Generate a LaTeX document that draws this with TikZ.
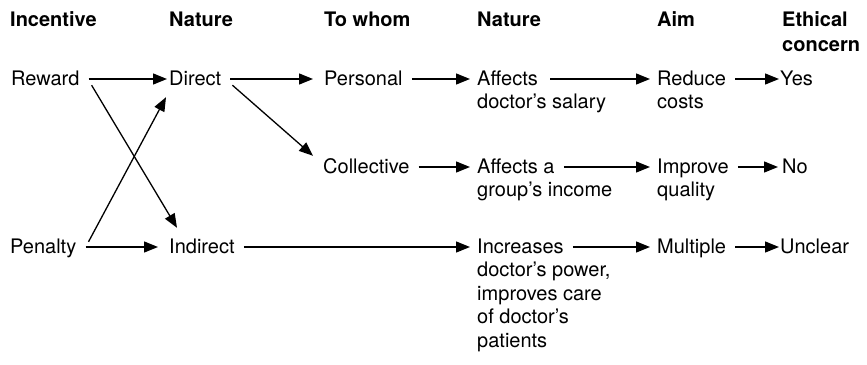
\documentclass[tikz,border=0pt]{standalone}
\usepackage{fontspec}
\setmainfont{TeX Gyre Heros}
\usetikzlibrary{arrows.meta}
\begin{document}
\begin{tikzpicture}[x=1pt,y=-1pt,
  every node/.style={inner sep=0pt,anchor=base west,text height=15pt,text depth=3pt,
    font=\fontsize{20}{23.5}\selectfont},
  head/.style={font=\fontsize{20}{24}\selectfont\bfseries},
  arr/.style={line width=1.3pt,-{Triangle[length=14pt,width=11pt]},shorten <=9pt}]
\useasboundingbox (0,0) rectangle (867,364);
% column headings
\node[head] (h1) at (10,27) {Incentive};
\node[head] (h2) at (169,27) {Nature};
\node[head] (h3) at (324,27) {To whom};
\node[head] (h4) at (477,27) {Nature};
\node[head] (h5) at (657,27) {Aim};
\node[head] (h6) at (782,27) {Ethical};
\node[head] (h6b) at (782,51) {concern};
% first row
\node (reward) at (11,85) {Reward};
\node (direct) at (169,85) {Direct};
\node (personal) at (324,85) {Personal};
\node (aff) at (477,85) {Affects};
\node (affb) at (477,108.5) {doctor’s salary};
\node (reduce) at (657,85) {Reduce};
\node (reduceb) at (657,108.5) {costs};
\node (yes) at (780,85) {Yes};
% second row
\node (collective) at (323,173) {Collective};
\node (affa) at (477,173) {Affects a};
\node (affab) at (477,196.5) {group’s income};
\node (improve) at (657,173) {Improve};
\node (improveb) at (657,196.5) {quality};
\node (no) at (782,173) {No};
% third row
\node (penalty) at (10,253) {Penalty};
\node (indirect) at (169,253) {Indirect};
\node (incr) at (477,253) {Increases};
\node (incr2) at (477,276.5) {doctor’s power,};
\node (incr3) at (477,300) {improves care};
\node (incr4) at (477,323.5) {of doctor’s};
\node (incr5) at (477,347) {patients};
\node (multiple) at (657,253) {Multiple};
\node (unclear) at (780,253) {Unclear};
% horizontal connectors
\draw[arr,shorten >=2pt] (reward.east) -- (direct.west);
\draw[arr,shorten >=11pt] (direct.east) -- (personal.west);
\draw[arr,shorten >=7pt] (personal.east) -- (aff.west);
\draw[arr,shorten >=7pt,shorten <=12pt] (aff.east) -- (reduce.west);
\draw[arr,shorten >=1pt] (reduce.east) -- (yes.west);
\draw[arr,shorten >=7pt] (collective.east) -- (affa.west);
\draw[arr,shorten >=7pt] (affa.east) -- (improve.west);
\draw[arr,shorten >=4pt] (improve.east) -- (no.west);
\draw[arr,shorten >=11pt] (penalty.east) -- (indirect.west);
\draw[arr,shorten >=7pt] (indirect.east) -- (incr.west);
\draw[arr,shorten >=7pt] (incr.east) -- (multiple.west);
\draw[arr,shorten >=1pt] (multiple.east) -- (unclear.west);
% crossing and branching connectors
\draw[arr,shorten <=0pt] ([xshift=12pt,yshift=3pt]reward.south east) -- ([xshift=8pt,yshift=10pt]indirect.north west);
\draw[arr,shorten <=0pt] ([xshift=12pt,yshift=-4pt]penalty.north east) -- ([xshift=-3pt,yshift=-9pt]direct.south west);
\draw[arr,shorten <=0pt] ([xshift=11pt,yshift=3pt]direct.south east) -- ([xshift=-10pt,yshift=2pt]collective.north west);
\end{tikzpicture}
\end{document}
